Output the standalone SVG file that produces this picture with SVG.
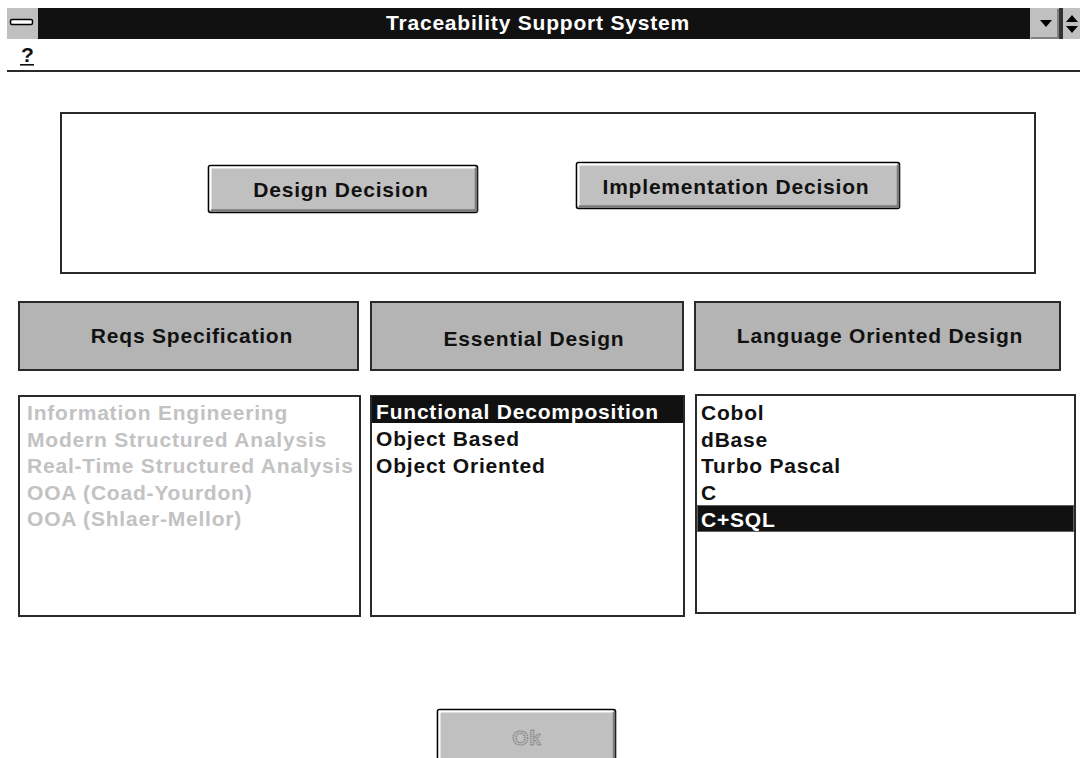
<svg xmlns="http://www.w3.org/2000/svg" width="1080" height="758" viewBox="0 0 1080 758">
  <style>
    .ui { font-family: "Liberation Sans", Arial, sans-serif; font-weight: bold; font-size: 21px; letter-spacing: 0.8px; }
    .dark { fill: #111; }
    .dim { fill: #c2c2c2; }
    .inv { fill: #fff; }
    .off { fill: #b8b8b8; stroke: #7c7c7c; stroke-width: 1.1; stroke-dasharray: 1.2 0.8; }
    .frame { fill: none; stroke: #2a2a2a; stroke-width: 2; }
    .list { fill: #fff; stroke: #2a2a2a; stroke-width: 2; }
    .hdr { fill: #b4b4b4; stroke: #2a2a2a; stroke-width: 2; }
    .btn { fill: #c0c0c0; stroke: #000; stroke-width: 1.6; }
    .hi { fill: none; stroke: #fff; stroke-width: 2; }
    .sh { fill: none; stroke: #7a7a7a; stroke-width: 2.5; }
    .sel { fill: #111; }
  </style>

  <rect x="0" y="0" width="1080" height="758" fill="#fff"/>

  <!-- window title bar -->
  <g id="title-bar">
    <rect x="7" y="8" width="1073" height="31" fill="#111"/>
    <rect x="7" y="8" width="31" height="31" fill="#c0c0c0"/>
    <rect x="10.5" y="19.5" width="22" height="5" rx="1.5" fill="#fff" stroke="#000" stroke-width="1.5"/>
    <text class="ui inv" x="538" y="30" text-anchor="middle" font-size="20">Traceability Support System</text>
    <rect x="1030" y="8" width="29" height="31" fill="#c0c0c0"/>
    <path d="M1031 38 H1058 V9" fill="none" stroke="#808080" stroke-width="2"/>
    <polygon points="1040,20 1052,20 1046,27" fill="#000"/>
    <rect x="1059" y="8" width="4" height="31" fill="#333"/>
    <rect x="1063" y="8" width="17" height="31" fill="#c0c0c0"/>
    <polygon points="1066,22 1078,22 1072,15" fill="#000"/>
    <polygon points="1066,26 1078,26 1072,33" fill="#000"/>
  </g>

  <!-- menu bar -->
  <g id="menu-bar">
    <text class="ui dark" x="21" y="62" letter-spacing="0">?</text>
    <rect x="20" y="64" width="14" height="1.6" fill="#111"/>
    <rect x="7" y="70" width="1073" height="2" fill="#2a2a2a"/>
  </g>

  <!-- decision panel -->
  <g id="decision-panel">
    <rect class="frame" x="61" y="113" width="974" height="160"/>
  </g>

  <g id="btn-design">
    <rect class="btn" x="208.5" y="165.5" width="269" height="47" rx="2"/>
    <path class="hi" d="M210.5 210 V167.5 H475"/>
    <path class="sh" d="M211 210.5 H476 V168"/>
    <text class="ui dark" x="341" y="197" text-anchor="middle">Design Decision</text>
  </g>

  <g id="btn-impl">
    <rect class="btn" x="576.5" y="162.5" width="323" height="46" rx="2"/>
    <path class="hi" d="M578.5 206 V164.5 H897"/>
    <path class="sh" d="M579 206.5 H898 V165"/>
    <text class="ui dark" x="736" y="194" text-anchor="middle">Implementation Decision</text>
  </g>

  <!-- column headers -->
  <g id="hdr-reqs">
    <rect class="hdr" x="19" y="302" width="339" height="68"/>
    <text class="ui dark" x="192" y="343" text-anchor="middle">Reqs Specification</text>
  </g>
  <g id="hdr-essential">
    <rect class="hdr" x="371" y="302" width="312" height="68"/>
    <text class="ui dark" x="534" y="346" text-anchor="middle" letter-spacing="0">Essential Design</text>
  </g>
  <g id="hdr-language">
    <rect class="hdr" x="695" y="302" width="365" height="68"/>
    <text class="ui dark" x="880" y="343" text-anchor="middle">Language Oriented Design</text>
  </g>

  <!-- method lists -->
  <g id="list-reqs">
    <rect class="list" x="19" y="396" width="341" height="220"/>
    <text class="ui dim" x="27" y="420">Information Engineering</text>
    <text class="ui dim" x="27" y="446.5">Modern Structured Analysis</text>
    <text class="ui dim" x="27" y="473">Real-Time Structured Analysis</text>
    <text class="ui dim" x="27" y="499.5">OOA (Coad-Yourdon)</text>
    <text class="ui dim" x="27" y="526">OOA (Shlaer-Mellor)</text>
  </g>

  <g id="list-essential">
    <rect class="list" x="371" y="396" width="313" height="220"/>
    <rect class="sel" x="372" y="396" width="311" height="27"/>
    <text class="ui inv" x="376" y="419">Functional Decomposition</text>
    <text class="ui dark" x="376" y="446">Object Based</text>
    <text class="ui dark" x="376" y="473">Object Oriented</text>
  </g>

  <g id="list-language">
    <rect class="list" x="696" y="395" width="379" height="218"/>
    <text class="ui dark" x="701" y="420">Cobol</text>
    <text class="ui dark" x="701" y="446.5">dBase</text>
    <text class="ui dark" x="701" y="473">Turbo Pascal</text>
    <text class="ui dark" x="701" y="500">C</text>
    <rect class="sel" x="697" y="505" width="377" height="27"/>
    <rect x="697.5" y="505.5" width="376" height="26" fill="none" stroke="#b0b0b0" stroke-width="1" stroke-dasharray="1 1"/>
    <text class="ui inv" x="701" y="527">C+SQL</text>
  </g>

  <!-- confirm button, cut by the window edge -->
  <g id="btn-ok">
    <rect class="btn" x="437.5" y="709.5" width="178" height="60" rx="2"/>
    <path class="hi" d="M439.5 760 V711.5 H613"/>
    <path class="sh" d="M614 712 V760"/>
    <text class="ui off" x="527" y="745" text-anchor="middle" letter-spacing="0.5">Ok</text>
  </g>

  <g id="connectors"/>
</svg>
